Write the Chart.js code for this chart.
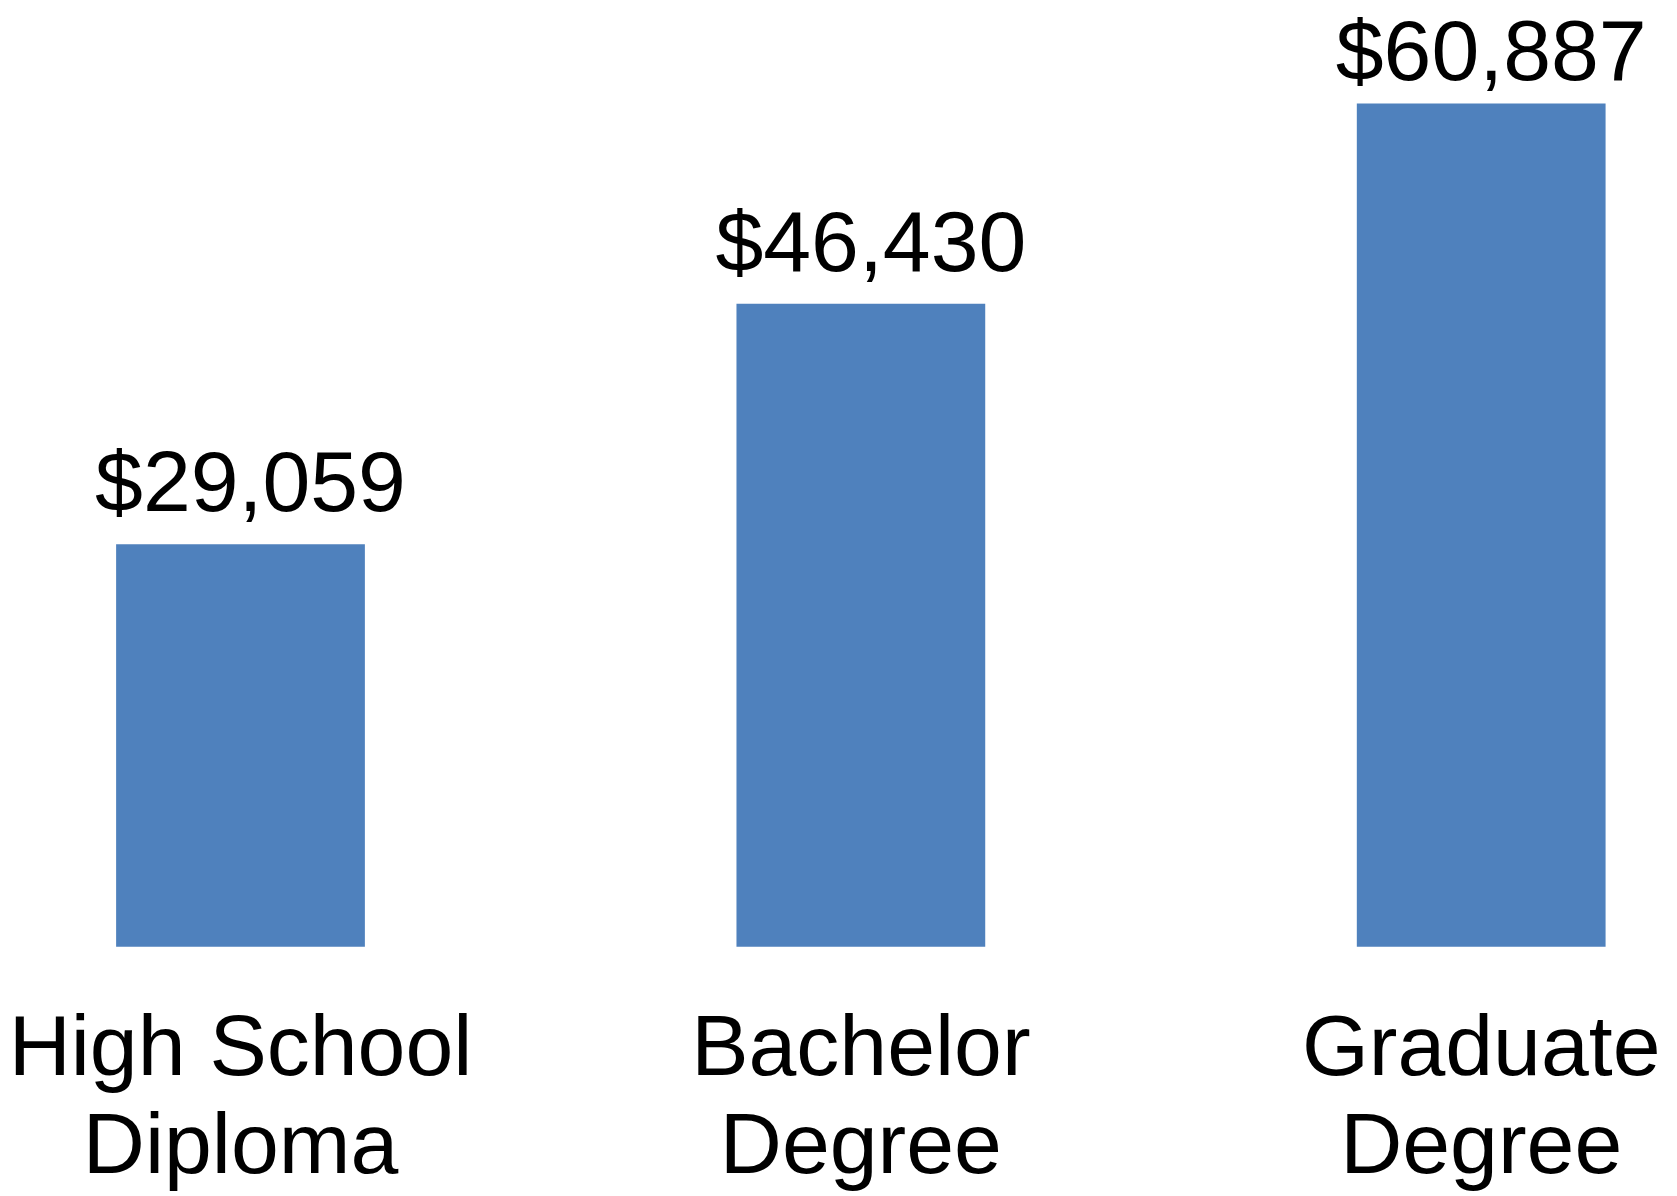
<!DOCTYPE html>
<html>
<head>
<meta charset="utf-8">
<script src="https://cdn.jsdelivr.net/npm/chart.js@4"></script>
<style>
  html, body { margin: 0; padding: 0; background: #fff; }
  canvas { display: block; }
</style>
</head>
<body>
<canvas id="earnings" width="1677" height="1196"></canvas>
<script>
// data
const degrees = [["High School", "Diploma"], ["Bachelor", "Degree"], ["Graduate", "Degree"]];
const earnings = [29059, 46430, 60887];

const fontFamily = "'Liberation Sans', Arial, sans-serif";

// draws the dollar labels above each bar
const valueLabels = {
  id: "valueLabels",
  afterDatasetsDraw(chart) {
    const ctx = chart.ctx;
    const meta = chart.getDatasetMeta(0);
    ctx.save();
    ctx.font = "86px " + fontFamily;
    ctx.fillStyle = "#000";
    ctx.textAlign = "center";
    ctx.textBaseline = "alphabetic";
    meta.data.forEach(function(bar, i) {
      const text = "$" + earnings[i].toLocaleString("en-US");
      const y = Math.max(bar.y - 33, 80);
      ctx.fillText(text, bar.x + 10, y);
    });
    ctx.restore();
  }
};

new Chart(document.getElementById("earnings").getContext("2d"), {
  type: "bar",
  data: {
    labels: degrees,
    datasets: [{
      data: earnings,
      backgroundColor: "#4F81BD",
      borderWidth: 0,
      categoryPercentage: 1,
      barPercentage: 0.401,
      clip: false
    }]
  },
  options: {
    responsive: false,
    animation: false,
    layout: {
      padding: { left: 240.5, right: 195.8, top: 5, bottom: 0 }
    },
    plugins: {
      legend: { display: false },
      tooltip: { enabled: false }
    },
    scales: {
      x: {
        offset: false,
        grid: { display: false, drawTicks: false },
        border: { display: false },
        ticks: {
          color: "#000",
          padding: 55,
          maxRotation: 0,
          autoSkip: false,
          font: { family: fontFamily, size: 86, lineHeight: 1.144 }
        },
        afterFit: function(scale) {
          // labels may hang past the plot edges; keep the plot width fixed
          scale.height = 249.3;
          scale.paddingLeft = 0;
          scale.paddingRight = 0;
        }
      },
      y: {
        display: false,
        min: 0,
        max: 68000
      }
    }
  },
  plugins: [valueLabels]
});
</script>
</body>
</html>
